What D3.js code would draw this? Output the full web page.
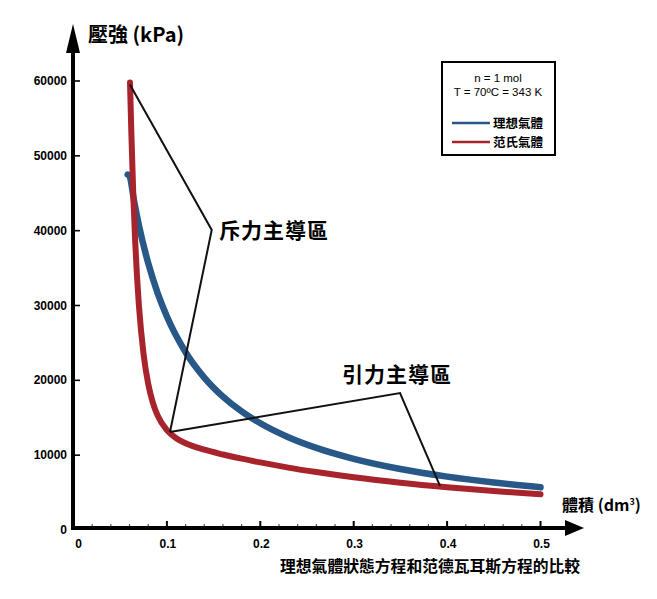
<!DOCTYPE html>
<html><head><meta charset="utf-8">
<script src="https://cdn.jsdelivr.net/npm/d3@7"></script>
<style>body{margin:0;background:#fff}svg{display:block}</style>
</head><body><svg id="c" width="657" height="599"></svg>
<script>
// Data
const idealV = [0.058,0.06,0.065,0.07,0.08,0.09,0.10,0.12,0.14,0.16,0.18,0.20,0.23,0.26,0.30,0.35,0.40,0.45,0.50];
const idealP = [47500,47300,43870,40740,35650,31690,28520,23760,20370,17820,15840,14260,12400,10970,9510,8150,7130,6340,5700];
const vdwV = [0.0605,0.062,0.064,0.066,0.068,0.07,0.075,0.08,0.085,0.09,0.10,0.11,0.12,0.14,0.16,0.18,0.20,0.23,0.26,0.30,0.35,0.40,0.45,0.50];
const vdwP = [59800,52830,44830,38670,33860,30060,23500,19520,16990,15310,13340,12270,11600,10730,10090,9530,9030,8340,7740,7040,6310,5710,5200,4780];
const yTicks = [0,10000,20000,30000,40000,50000,60000];
const xTicks = [0,0.1,0.2,0.3,0.4,0.5];
const xTickLabels = ["0","0.1","0.2","0.3","0.4","0.5"];
const seriesNames = ["理想氣體","范氏氣體"];
const repulsionPts = [[0.0605,59500],[0.148,40100],[0.1033,13100]];
const attractionPts = [[0.1033,13100],[0.3496,18300],[0.3924,5900]];

const svg = d3.select("#c");
const x = d3.scaleLinear().domain([0,0.5]).range([73.5,540.5]);
const y = d3.scaleLinear().domain([0,60000]).range([530,81]);
const numFont = "'Liberation Sans', Arial, sans-serif";
const cjk = "'Noto Sans CJK TC','Noto Sans CJK SC',sans-serif";
const blue = "#275887", red = "#a8242c";

// Axes
const g = svg.append("g");
g.append("line").attr("x1",73).attr("x2",568).attr("y1",528).attr("y2",528).attr("stroke","#000").attr("stroke-width",4);
g.append("path").attr("d","M565,520 L584,528 L565,536 Z").attr("fill","#000");
g.append("line").attr("x1",73).attr("x2",73).attr("y1",530).attr("y2",48).attr("stroke","#000").attr("stroke-width",4);
g.append("path").attr("d","M66,53 L73,24 L80,53 Z").attr("fill","#000");

// y ticks
yTicks.forEach(t=>{
  if(t>0) g.append("line").attr("x1",73).attr("x2",80).attr("y1",y(t)).attr("y2",y(t)).attr("stroke","#000").attr("stroke-width",1.6);
  g.append("text").attr("x",67).attr("y",y(t)+4).attr("text-anchor","end")
   .attr("font-family",numFont).attr("font-weight","bold").attr("font-size",12).text(t);
});
// x minor ticks
d3.range(1,25).forEach(i=>{
  const v=i*0.02; if(i%5===0) return;
  g.append("line").attr("x1",x(v)).attr("x2",x(v)).attr("y1",526).attr("y2",524).attr("stroke","#555").attr("stroke-width",1.2);
});
xTicks.forEach((t,i)=>{
  if(t>0) g.append("line").attr("x1",x(t)).attr("x2",x(t)).attr("y1",526).attr("y2",521).attr("stroke","#000").attr("stroke-width",2);
  g.append("text").attr("x",x(t)+(t===0?5:1)).attr("y",548).attr("text-anchor","middle")
   .attr("font-family",numFont).attr("font-weight","bold").attr("font-size",12).text(xTickLabels[i]);
});

// Curves
const line = d3.line().x(d=>x(d[0])).y(d=>y(d[1])).curve(d3.curveMonotoneX);
svg.append("path").datum(idealV.map((v,i)=>[v,idealP[i]])).attr("d",line)
  .attr("fill","none").attr("stroke",blue).attr("stroke-width",6.5).attr("stroke-linecap","round");
svg.append("path").datum(vdwV.map((v,i)=>[v,vdwP[i]])).attr("d",line)
  .attr("fill","none").attr("stroke",red).attr("stroke-width",6).attr("stroke-linecap","round");

// Annotations
const pl = d3.line().x(d=>x(d[0])).y(d=>y(d[1]));
[repulsionPts,attractionPts].forEach(p=>{
  svg.append("path").attr("d",pl(p)).attr("fill","none").attr("stroke","#111").attr("stroke-width",2).attr("stroke-linejoin","miter");
});
svg.append("text").attr("x",219).attr("y",238).attr("font-family",cjk).attr("font-weight","bold").attr("font-size",21).attr("letter-spacing",1).text("斥力主導區");
svg.append("text").attr("x",342).attr("y",382).attr("font-family",cjk).attr("font-weight","bold").attr("font-size",21).attr("letter-spacing",1).text("引力主導區");

// Titles
svg.append("text").attr("x",88).attr("y",42).attr("font-family",cjk).attr("font-weight","bold").attr("font-size",20).text("壓強 (kPa)");
const xt = svg.append("text").attr("x",562).attr("y",511).attr("font-family",cjk).attr("font-weight","bold").attr("font-size",16);
xt.append("tspan").text("體積 (dm");
xt.append("tspan").attr("font-size",9).attr("dy",-6).text("3");
xt.append("tspan").attr("dy",6).text(")");
svg.append("text").attr("x",280).attr("y",572).attr("font-family",cjk).attr("font-weight","bold").attr("font-size",15.8).text("理想氣體狀態方程和范德瓦耳斯方程的比較");

// Legend
const lg = svg.append("g");
lg.append("rect").attr("x",442).attr("y",62).attr("width",113).attr("height",93).attr("fill","#fff").attr("stroke","#000").attr("stroke-width",2);
lg.append("text").attr("x",498).attr("y",82).attr("text-anchor","middle").attr("font-family",numFont).attr("font-size",11.5).text("n = 1 mol");
lg.append("text").attr("x",498).attr("y",96).attr("text-anchor","middle").attr("font-family",numFont).attr("font-size",11.5).text("T = 70ºC = 343 K");
[blue,red].forEach((c,i)=>{
  const yy = 123 + i*19;
  lg.append("line").attr("x1",452).attr("x2",490).attr("y1",yy).attr("y2",yy).attr("stroke",c).attr("stroke-width",2.5);
  lg.append("text").attr("x",493).attr("y",yy+4.5).attr("font-family",cjk).attr("font-weight","bold").attr("font-size",12.5).text(seriesNames[i]);
});
</script></body></html>
